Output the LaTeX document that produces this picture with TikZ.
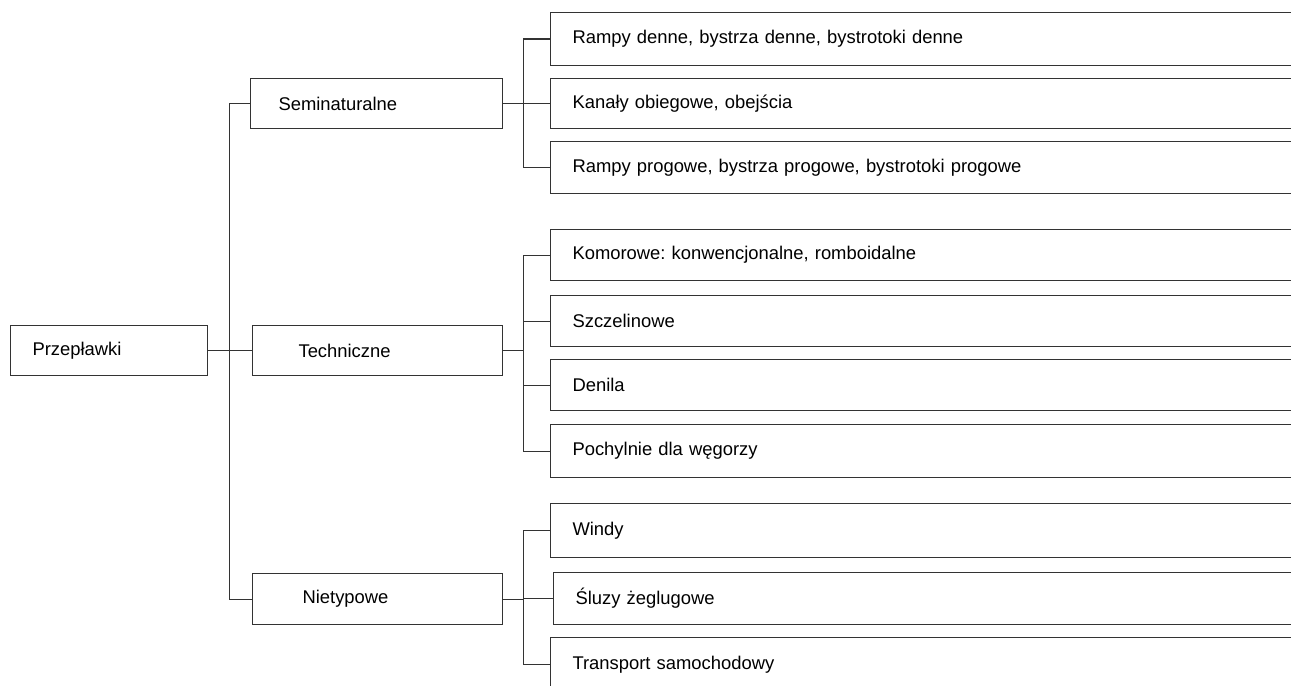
\documentclass[tikz,border=0pt]{standalone}
\usepackage{fontspec}
\setmainfont{Liberation Sans}
\usepackage{tikz}
\frenchspacing

\begin{document}
\begin{tikzpicture}[x=0.75pt,y=-0.75pt,line join=miter,
    box/.style={draw=black!80,line width=0.8pt,anchor=north west,align=left,
                inner ysep=0pt,font=\fontsize{13.8}{16}\selectfont},
    leaf/.style={box,text width=537pt,inner xsep=16.5pt}]
  \clip (0,0) rectangle (1291,685);
  \node[box,text width=114.75pt,inner xsep=16.5pt,minimum height=37.5pt] (root) at (10,325) {Przepławki};
  \node[box,text width=147pt,inner xsep=21pt,minimum height=37.5pt]      (semi) at (250,78)  {Seminaturalne};
  \node[box,text width=118.5pt,inner xsep=34.5pt,minimum height=37.5pt]  (tech) at (252,325) {Techniczne};
  \node[box,text width=112.5pt,inner xsep=37.5pt,minimum height=38.25pt] (niet) at (252,573) {Nietypowe};

  \node[leaf,minimum height=39.75pt] (s1) at (550,12)  {Rampy denne, bystrza denne, bystrotoki denne};
  \node[leaf,minimum height=37.5pt]  (s2) at (550,78)  {Kanały obiegowe, obejścia};
  \node[leaf,minimum height=39pt]    (s3) at (550,141) {Rampy progowe, bystrza progowe, bystrotoki progowe};

  \node[leaf,minimum height=38.25pt] (t1) at (550,229) {Komorowe: konwencjonalne, romboidalne};
  \node[leaf,minimum height=38.25pt] (t2) at (550,295) {Szczelinowe};
  \node[leaf,minimum height=38.25pt] (t3) at (550,359) {Denila};
  \node[leaf,minimum height=39.75pt] (t4) at (550,424) {Pochylnie dla węgorzy};

  \node[leaf,minimum height=40.5pt] (n1) at (550,503) {Windy};
  \node[leaf,minimum height=39pt]   (n2) at (553,572) {Śluzy żeglugowe};
  \node[leaf,minimum height=40.5pt] (n3) at (550,637) {Transport samochodowy};

  \begin{scope}[draw=black!80,line width=0.8pt]
    \draw (root.east) -- ++(21,0) coordinate (rj) -- (tech.west);
    \draw (rj) |- (semi.west);
    \draw (rj) |- (niet.west);

    \draw (semi.east) -- ++(20,0) coordinate (sj) -- (s2.west);
    \draw (sj) |- (s1.west);
    \draw (sj) |- (s3.west);

    \draw (tech.east) -- ++(20,0) coordinate (tj);
    \draw (tj) |- (t1.west);
    \draw (tj) |- (t2.west);
    \draw (tj) |- (t3.west);
    \draw (tj) |- (t4.west);

    \draw (niet.east) -- ++(20,0) coordinate (nj);
    \draw (nj) |- (n1.west);
    \draw (nj) |- (n2.west);
    \draw (nj) |- (n3.west);
  \end{scope}
\end{tikzpicture}
\end{document}
